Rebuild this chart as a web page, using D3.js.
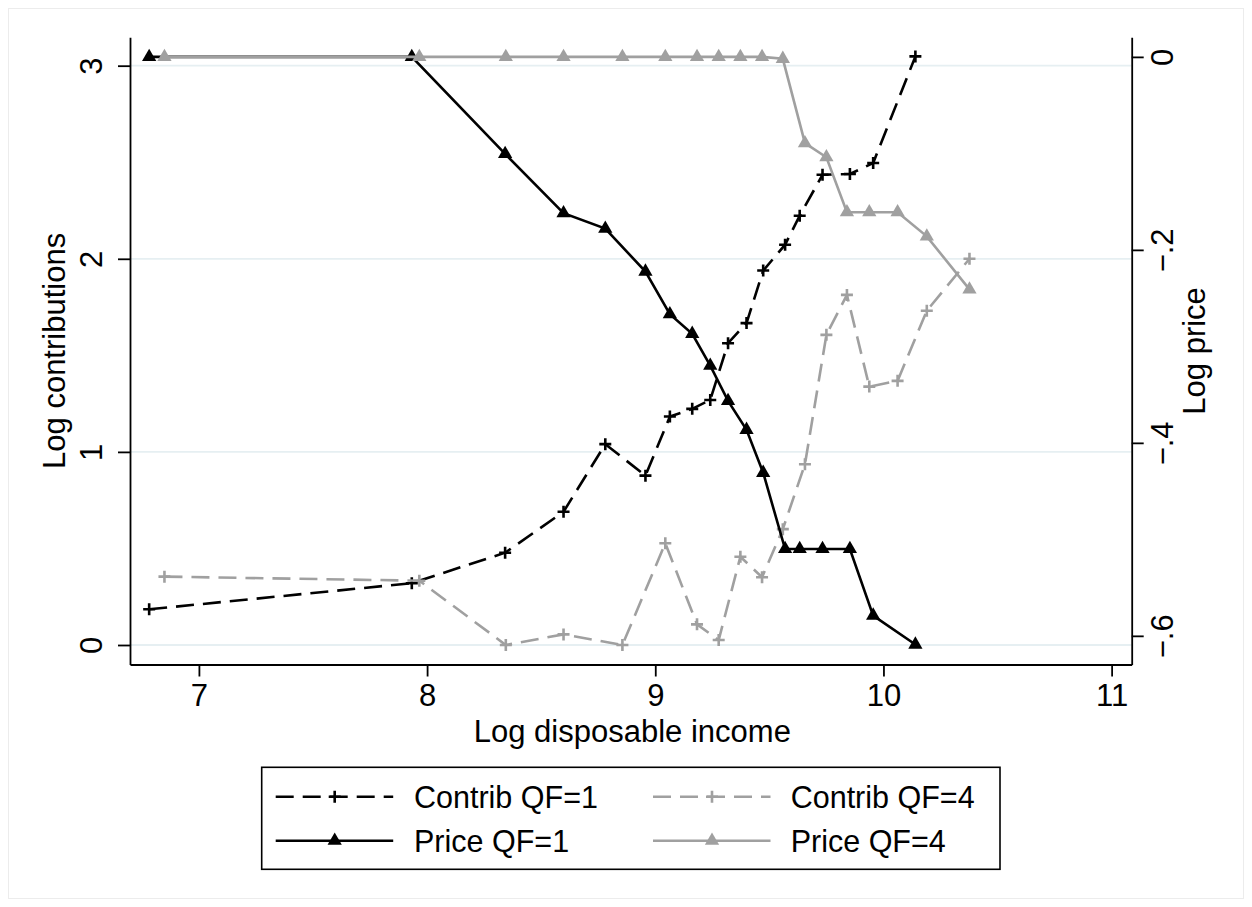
<!DOCTYPE html>
<html>
<head>
<meta charset="utf-8">
<script src="https://cdn.jsdelivr.net/npm/d3@7"></script>
<style>
  body { margin: 0; background: #fff; }
  svg { font-family: 'Liberation Sans', Arial, Helvetica, sans-serif; }
  .gridline { stroke: #e6eff2; stroke-width: 1.8; }
  .axis path, .axis line { stroke: #000; stroke-width: 1.8; }
  .axis text { font-size: 31px; fill: #000; }
  .title { font-size: 31px; fill: #000; }
  .legtext { font-size: 30.5px; fill: #000; }
</style>
</head>
<body>
<div id="chart"></div>
<script>
'use strict';
// Log disposable income (x) for each quotient familial group
const incomeQF1 = [6.782, 7.933, 8.342, 8.598, 8.781, 8.957, 9.064, 9.162, 9.241, 9.319, 9.400, 9.473, 9.569, 9.633, 9.733, 9.853, 9.955, 10.140]
const incomeQF4 = [6.849, 7.966, 8.345, 8.598, 8.856, 9.044, 9.183, 9.278, 9.373, 9.468, 9.559, 9.656, 9.750, 9.840, 9.938, 10.062, 10.190, 10.377]
// Log contributions (left axis)
const contribQF1 = [0.185, 0.320, 0.478, 0.690, 1.040, 0.877, 1.183, 1.223, 1.269, 1.563, 1.667, 1.939, 2.073, 2.223, 2.435, 2.439, 2.496, 3.048]
const contribQF4 = [0.354, 0.333, 0, 0.055, 0, 0.527, 0.107, 0.026, 0.457, 0.351, 0.600, 0.936, 1.606, 1.813, 1.338, 1.368, 1.731, 2.000]
// Log price (right axis)
const priceQF1 = [0, 0, -0.1005, -0.162, -0.178, -0.2225, -0.2667, -0.287, -0.320, -0.3565, -0.3865, -0.431, -0.510, -0.510, -0.510, -0.510, -0.579, -0.609]
const priceQF4 = [0, 0, 0, 0, 0, 0, 0, 0, 0, 0, -0.002, -0.0894, -0.104, -0.161, -0.161, -0.161, -0.186, -0.241]

const xTicks = [7, 8, 9, 10, 11]
const yLeftTicks = [0, 1, 2, 3]
const yRightTicks = [0, -0.2, -0.4, -0.6]
const seriesNames = ['Contrib QF=1', 'Contrib QF=4', 'Price QF=1', 'Price QF=4']

const W = 1252
const H = 907
const plot = { left: 130, right: 1131.7, top: 37.3, bottom: 664.5 }
const gray = '#a0a0a0'

const svg = d3.select('#chart').append('svg')
    .attr('width', W)
    .attr('height', H)

svg.append('rect') // outer graph region outline
    .attr('x', 8.5).attr('y', 8.5)
    .attr('width', W - 17).attr('height', H - 17)
    .attr('fill', '#fff')
    .attr('stroke', '#ececec')
    .attr('stroke-width', 1)

const x = d3.scaleLinear().domain([6.698, 11.088]).range([plot.left, plot.right])
const yL = d3.scaleLinear().domain([-0.101, 3.147]).range([plot.bottom, plot.top])
const yR = d3.scaleLinear().domain([-0.6297, 0.0203]).range([plot.bottom, plot.top])

svg.append('g').selectAll('line') // horizontal gridlines at left axis ticks
    .data(yLeftTicks).enter().append('line')
    .attr('class', 'gridline')
    .attr('x1', plot.left).attr('x2', plot.right)
    .attr('y1', d => yL(d)).attr('y2', d => yL(d))

const fmtR = d => d === 0 ? '0' : '\u2212' + d3.format('.1f')(-d).replace(/^0/, '')

// x axis
const gx = svg.append('g')
    .attr('class', 'axis')
    .attr('transform', `translate(0,${plot.bottom})`)
    .call(d3.axisBottom(x).tickValues(xTicks).tickSize(12).tickSizeOuter(0).tickFormat(d3.format('d')))
gx.selectAll('text').attr('y', 41.5).attr('dy', null)

// left axis
const gl = svg.append('g')
    .attr('class', 'axis')
    .attr('transform', `translate(${plot.left},0)`)
    .call(d3.axisLeft(yL).tickValues(yLeftTicks).tickSize(12).tickSizeOuter(0).tickFormat(d3.format('d')))
gl.selectAll('text')
    .attr('x', null).attr('dy', null)
    .attr('text-anchor', 'middle')
    .attr('transform', 'translate(-28,0) rotate(-90)')

// right axis
const gr = svg.append('g')
    .attr('class', 'axis')
    .attr('transform', `translate(${plot.right},0)`)
    .call(d3.axisRight(yR).tickValues(yRightTicks).tickSize(12).tickSizeOuter(0).tickFormat(fmtR))
gr.selectAll('text')
    .attr('x', null).attr('dy', null)
    .attr('text-anchor', 'middle')
    .attr('transform', 'translate(41.5,0) rotate(-90)')

// axis titles
svg.append('text')
    .attr('class', 'title')
    .attr('text-anchor', 'middle')
    .attr('x', (plot.left + plot.right) / 2 + 1.5)
    .attr('y', 741.5)
    .text('Log disposable income')
svg.append('text')
    .attr('class', 'title')
    .attr('text-anchor', 'middle')
    .attr('transform', `translate(65,${(plot.top + plot.bottom) / 2}) rotate(-90)`)
    .text('Log contributions')
svg.append('text')
    .attr('class', 'title')
    .attr('text-anchor', 'middle')
    .attr('transform', `translate(1205,${(plot.top + plot.bottom) / 2}) rotate(-90)`)
    .text('Log price')

// series definitions
const plus = 'M-6,0H6M0,-6V6'
const tri = d3.symbol().type(d3.symbolTriangle).size(88)()
const series = [
    { name: seriesNames[0], xs: incomeQF1, ys: contribQF1, y: yL, color: '#000', dash: '18,9', marker: 'plus' },
    { name: seriesNames[1], xs: incomeQF4, ys: contribQF4, y: yL, color: gray, dash: '18,9', marker: 'plus' },
    { name: seriesNames[2], xs: incomeQF1, ys: priceQF1, y: yR, color: '#000', dash: null, marker: 'tri' },
    { name: seriesNames[3], xs: incomeQF4, ys: priceQF4, y: yR, color: gray, dash: null, marker: 'tri' }
]

function drawMarker(g, s, px, py) {
    if (s.marker === 'plus') {
        g.append('path')
            .attr('d', plus)
            .attr('transform', `translate(${px},${py})`)
            .attr('fill', 'none')
            .attr('stroke', s.color)
            .attr('stroke-width', 2.6)
    } else {
        g.append('path')
            .attr('d', tri)
            .attr('transform', `translate(${px},${py})`)
            .attr('fill', s.color)
    }
}

series.forEach(s => {
    const pts = s.xs.map((v, i) => [v, s.ys[i]])
    const g = svg.append('g')
    g.append('path').datum(pts)
        .attr('fill', 'none')
        .attr('stroke', s.color)
        .attr('stroke-width', 2.6)
        .attr('stroke-dasharray', s.dash)
        .attr('d', d3.line().x(d => x(d[0])).y(d => s.y(d[1])))
    pts.forEach(d => drawMarker(g, s, x(d[0]), s.y(d[1])))
})

// legend
const leg = svg.append('g')
leg.append('rect')
    .attr('x', 261.7).attr('y', 767.3)
    .attr('width', 738.3).attr('height', 102)
    .attr('fill', '#fff')
    .attr('stroke', '#000')
    .attr('stroke-width', 1.6)
const legPos = [
    { x1: 275.7, rowY: 796.7, tx: 414 },
    { x1: 653, rowY: 796.7, tx: 790.7 },
    { x1: 275.7, rowY: 840.7, tx: 414 },
    { x1: 653, rowY: 840.7, tx: 790.7 }
]
series.forEach((s, i) => {
    const p = legPos[i]
    leg.append('line')
        .attr('x1', p.x1).attr('x2', p.x1 + 117.5)
        .attr('y1', p.rowY).attr('y2', p.rowY)
        .attr('stroke', s.color)
        .attr('stroke-width', 2.6)
        .attr('stroke-dasharray', s.dash)
    drawMarker(leg, s, p.x1 + 59, p.rowY)
    leg.append('text')
        .attr('class', 'legtext')
        .attr('x', p.tx)
        .attr('y', p.rowY + 11.3)
        .text(s.name)
})
</script>
</body>
</html>
